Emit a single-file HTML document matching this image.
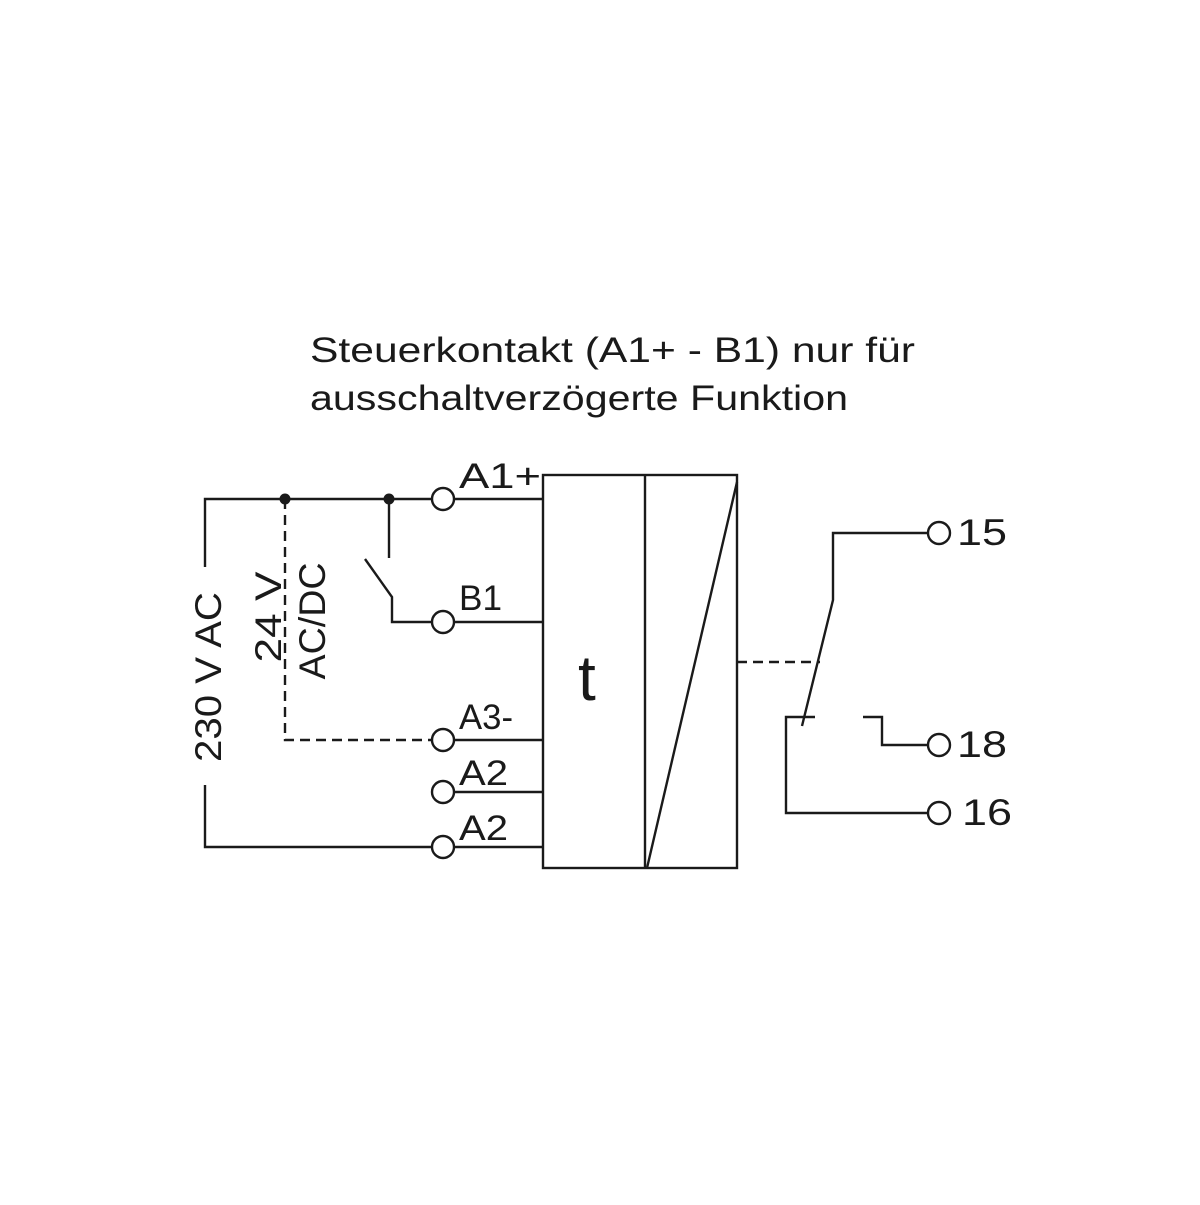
<!DOCTYPE html>
<html><head><style>body{margin:0;background:#fff}</style></head><body>
<svg width="1200" height="1200" viewBox="0 0 1200 1200" xmlns="http://www.w3.org/2000/svg" font-family="Liberation Sans, sans-serif" fill="#1a1a1a">
<g stroke="#1a1a1a" stroke-width="2.4" fill="none">
<polyline points="205,567 205,499 432,499"/>
<polyline points="205,785 205,847 432,847"/>
<line x1="454" y1="499" x2="543" y2="499"/>
<line x1="454" y1="622" x2="543" y2="622"/>
<line x1="454" y1="740" x2="543" y2="740"/>
<line x1="454" y1="792" x2="543" y2="792"/>
<line x1="454" y1="847" x2="543" y2="847"/>
<polyline points="285,499 285,740 432,740" stroke-dasharray="10,6"/>
<line x1="389" y1="499" x2="389" y2="558"/>
<polyline points="365,559 392,597 392,622 432,622"/>
<rect x="543" y="475" width="194" height="393"/>
<line x1="645" y1="475" x2="645" y2="868"/>
<line x1="737" y1="482" x2="647" y2="868"/>
<line x1="737" y1="662" x2="820" y2="662" stroke-dasharray="10,6"/>
<polyline points="928,533 833,533 833,600 802,726"/>
<polyline points="815,717 786,717 786,813 928,813"/>
<polyline points="863,717 882,717 882,745 928,745"/>
<circle cx="443" cy="499" r="11"/>
<circle cx="443" cy="622" r="11"/>
<circle cx="443" cy="740" r="11"/>
<circle cx="443" cy="792" r="11"/>
<circle cx="443" cy="847" r="11"/>
<circle cx="939" cy="533" r="11"/>
<circle cx="939" cy="745" r="11"/>
<circle cx="939" cy="813" r="11"/>
</g>
<circle cx="285" cy="499" r="5.5"/>
<circle cx="389" cy="499" r="5.5"/>
<text x="310" y="362" font-size="35" textLength="605" lengthAdjust="spacingAndGlyphs">Steuerkontakt (A1+ - B1) nur für</text>
<text x="310" y="410" font-size="35" textLength="538" lengthAdjust="spacingAndGlyphs">ausschaltverzögerte Funktion</text>
<g font-size="35">
<text x="459" y="488" textLength="82" lengthAdjust="spacingAndGlyphs">A1+</text>
<text x="459" y="610" textLength="43" lengthAdjust="spacingAndGlyphs">B1</text>
<text x="459" y="729" textLength="54" lengthAdjust="spacingAndGlyphs">A3-</text>
<text x="459" y="785" textLength="49" lengthAdjust="spacingAndGlyphs">A2</text>
<text x="459" y="840" textLength="49" lengthAdjust="spacingAndGlyphs">A2</text>
</g>
<text x="578" y="700" font-size="64">t</text>
<g font-size="37">
<text x="957" y="545" textLength="50" lengthAdjust="spacingAndGlyphs">15</text>
<text x="957" y="757" textLength="50" lengthAdjust="spacingAndGlyphs">18</text>
<text x="962" y="825" textLength="50" lengthAdjust="spacingAndGlyphs">16</text>
</g>
<g font-size="37">
<text transform="translate(221,677) rotate(-90)" text-anchor="middle" textLength="170" lengthAdjust="spacingAndGlyphs">230 V AC</text>
<text transform="translate(281,617) rotate(-90)" text-anchor="middle" textLength="91" lengthAdjust="spacingAndGlyphs">24 V</text>
<text transform="translate(325,621) rotate(-90)" text-anchor="middle" textLength="117" lengthAdjust="spacingAndGlyphs">AC/DC</text>
</g>
</svg>
</body></html>
